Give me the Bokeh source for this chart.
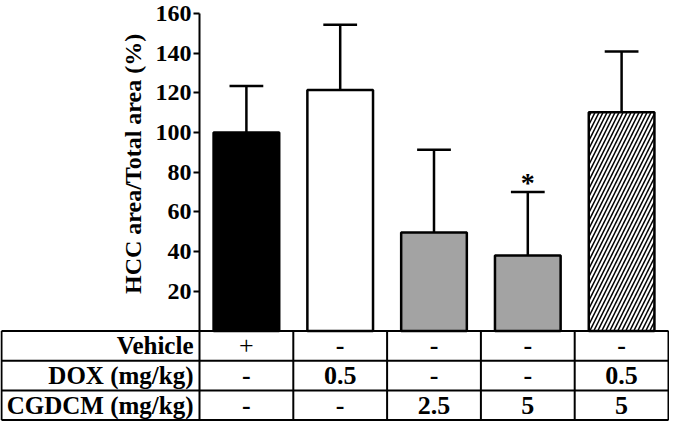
import math
from bokeh.plotting import figure
from bokeh.models import FixedTicker, Range1d, ColumnDataSource
from bokeh.core.properties import value
from bokeh.embed import file_html
from bokeh.resources import INLINE

# ---- data ----
groups = ["Vehicle", "DOX 0.5", "CGDCM 2.5", "CGDCM 5", "DOX 0.5 + CGDCM 5"]
means = [100.0, 121.5, 49.7, 38.0, 110.2]
errors = [23.5, 32.8, 41.7, 32.1, 30.7]
significance = ["", "", "", "*", ""]
y_ticks = [20, 40, 60, 80, 100, 120, 140, 160]
y_label = "HCC area/Total area (%)"

row_labels = ["Vehicle", "DOX (mg/kg)", "CGDCM (mg/kg)"]
vehicle_row = ["+", "-", "-", "-", "-"]
dox_row = ["-", "0.5", "-", "-", "0.5"]
cgdcm_row = ["-", "-", "2.5", "5", "5"]

# ---- styles ----
fills = ["black", "white", "#a3a3a3", "#a3a3a3", "white"]
hatches = [" ", " ", " ", " ", "/"]
FONT = "Liberation Serif"

xs = list(range(len(groups)))
upper = [m + e for m, e in zip(means, errors)]

W, H = 669, 421
axis_px = 199      # y-axis, px from left
c = (668 - axis_px) / 5.0   # px per category
zero_px = 330.5    # zero line, px from top
s = (zero_px - 13) / 160.0  # px per y unit
row_px = 29.7

x_start = -0.5 - axis_px / c
y_top = zero_px / s
y_bot = -(H - zero_px) / s

p = figure(width=W, height=H,
           x_range=Range1d(x_start, x_start + W / c),
           y_range=Range1d(y_bot, y_top),
           output_backend="svg", toolbar_location=None,
           x_axis_type=None,
           min_border_left=0, min_border_right=0,
           min_border_top=0, min_border_bottom=0)
p.outline_line_color = None
p.xgrid.visible = False
p.ygrid.visible = False

ax = p.yaxis[0]
ax.fixed_location = -0.5
ax.ticker = FixedTicker(ticks=y_ticks)
ax.bounds = (0, 160)
ax.axis_line_width = 2
ax.axis_line_color = "black"
ax.major_tick_line_width = 2
ax.major_tick_line_color = "black"
ax.major_tick_out = 6
ax.major_tick_in = 0
ax.minor_tick_out = 0
ax.minor_tick_in = 0
ax.major_label_text_font = FONT
ax.major_label_text_font_size = "24px"
ax.major_label_text_font_style = "bold"
ax.major_label_text_color = "black"
ax.major_label_standoff = 2

# y-axis title
p.text(x=[-0.5 - 67 / c], y=[84.2], text=[y_label],
       angle=math.pi / 2, text_font=value(FONT), text_font_size="24px",
       text_font_style="bold", text_align="center", text_baseline="middle",
       text_color="black")

# error bars
p.segment(x0=xs, y0=means, x1=xs, y1=upper, line_color="black", line_width=2.5)
p.segment(x0=[x - 0.18 for x in xs], y0=upper, x1=[x + 0.18 for x in xs], y1=upper,
          line_color="black", line_width=2.5)
# bars
p.vbar(x=xs, top=means, bottom=0, width=0.7, fill_color=fills, line_color="black",
       line_width=2.5, hatch_pattern=hatches, hatch_color="black",
       hatch_weight=1.5, hatch_scale=8)
# significance
p.text(x=xs, y=upper, text=significance, text_font=value(FONT), text_font_size="28px",
       text_font_style="bold", text_align="center", text_baseline="middle",
       y_offset=-9, text_color="black")

# ---- table ----
nrows = len(row_labels)
ncols = len(groups)
row_h = row_px / s
left_edge = -0.5 - (axis_px - 1) / c
right_edge = ncols - 0.5
hy = [-i * row_h for i in range(nrows + 1)]
p.segment(x0=[left_edge] * len(hy), y0=hy, x1=[right_edge] * len(hy), y1=hy,
          line_color="black", line_width=2)
vx = [left_edge] + [j - 0.5 for j in range(ncols + 1)]
p.segment(x0=vx, y0=[0] * len(vx), x1=vx, y1=[hy[-1]] * len(vx),
          line_color="black", line_width=2)

row_y = [-(i + 0.5) * row_h for i in range(nrows)]
p.text(x=[-0.5 - 6 / c] * nrows, y=row_y, text=row_labels, text_font=value(FONT),
       text_font_size="25px", text_font_style="bold", text_align="right",
       text_baseline="middle", text_color="black")

rows = [vehicle_row, dox_row, cgdcm_row]
vx_t, vy_t, vt, vs = [], [], [], []
for i, r in enumerate(rows):
    for j, t in enumerate(r):
        vx_t.append(xs[j])
        vy_t.append(row_y[i])
        vt.append(t)
        vs.append("normal" if t == "+" else "bold")
cells = ColumnDataSource(dict(x=vx_t, y=vy_t, text=vt, style=vs))
p.text(x="x", y="y", text="text", source=cells, text_font=value(FONT),
       text_font_size="26px", text_font_style="style", text_align="center",
       text_baseline="middle", text_color="black")

open("out.html", "w").write(file_html(p, INLINE))
